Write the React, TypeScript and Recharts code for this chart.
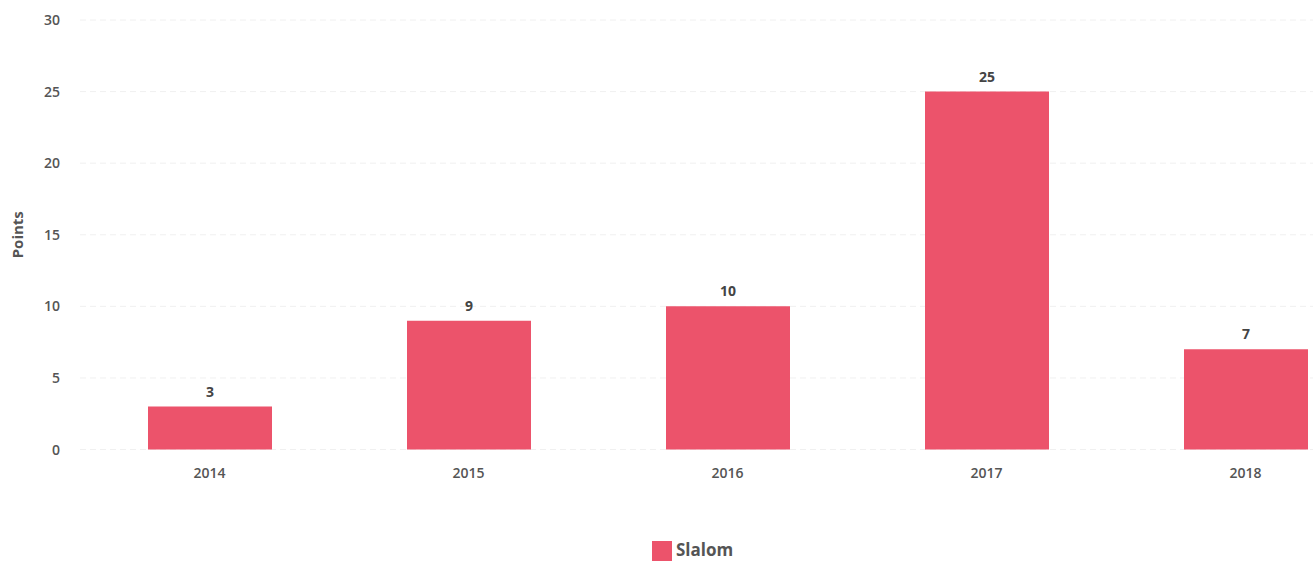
import React from "react";
import { BarChart, Bar, XAxis, YAxis, CartesianGrid, Legend, LabelList } from "recharts";

const years = ["2014", "2015", "2016", "2017", "2018"];
const slalom = [3, 9, 10, 25, 7];
const yTicks = [0, 5, 10, 15, 20, 25, 30];

const data = years.map((y, i) => ({ year: y, Slalom: slalom[i] }));

const font = "'Open Sans', 'DejaVu Sans', sans-serif";

export default function App() {
  return (
    <div
      style={{
        position: "fixed",
        left: 0,
        top: 0,
        width: 1313,
        height: 563,
        overflow: "hidden",
        background: "#fff",
        fontFamily: font,
      }}
    >
      <BarChart
        width={1380}
        height={563}
        data={data}
        margin={{ top: 20, right: 5, left: 20, bottom: 46 }}
      >
        <CartesianGrid vertical={false} stroke="#f0f0f0" strokeDasharray="6 4" />
        <XAxis
          dataKey="year"
          axisLine={false}
          tickLine={false}
          tickSize={0}
          tickMargin={19}
          height={44}
          tick={{ fill: "#555", fontSize: 14, fontWeight: 600, fontFamily: font }}
        />
        <YAxis
          domain={[0, 30]}
          ticks={yTicks}
          axisLine={false}
          tickLine={false}
          tickSize={0}
          tickMargin={20}
          width={60}
          tick={{ fill: "#555", fontSize: 14, fontWeight: 600, fontFamily: font }}
          label={{
            value: "Points",
            angle: -90,
            position: "insideLeft",
            offset: -2,
            style: { fill: "#555", fontSize: 15, fontWeight: 700, fontFamily: font, textAnchor: "middle" },
          }}
        />
        <Legend
          verticalAlign="bottom"
          iconType="square"
          iconSize={20}
          wrapperStyle={{ fontFamily: font, fontSize: 17, fontWeight: 700, bottom: 2 }}
          formatter={(v) => <span style={{ color: "#555" }}>{v}</span>}
        />
        <Bar dataKey="Slalom" fill="#EC536B" barSize={124} isAnimationActive={false}>
          <LabelList
            dataKey="Slalom"
            position="top"
            offset={10}
            style={{ fill: "#444", fontSize: 14, fontWeight: 700, fontFamily: font }}
          />
        </Bar>
      </BarChart>
    </div>
  );
}
